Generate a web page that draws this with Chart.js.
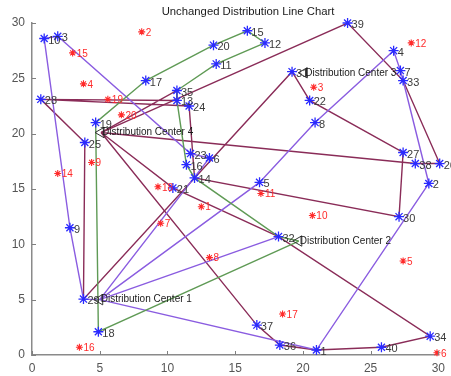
<!DOCTYPE html>
<html>
<head>
<meta charset="utf-8">
<script src="https://cdn.jsdelivr.net/npm/chart.js@4.4.1/dist/chart.umd.min.js"></script>
<style>
  html, body { margin: 0; padding: 0; background: #ffffff; }
  #wrap { width: 451px; height: 376px; }
</style>
</head>
<body>
<div id="wrap"><canvas id="c" width="451" height="376"></canvas></div>
<script>
// Customers (blue markers)
const customerIds = [1, 2, 3, 4, 5, 6, 7, 8, 9, 10,
  11, 12, 13, 14, 15, 16, 17, 18, 19, 20,
  21, 22, 23, 24, 25, 26, 27, 28, 29, 30,
  31, 32, 33, 34, 35, 36, 37, 38, 39, 40];
const customerX = [21.0, 29.3, 1.9, 26.7, 16.8, 13.1, 27.2, 20.9, 2.8, 0.9,
  13.6, 17.2, 10.7, 12.0, 15.9, 11.4, 8.4, 4.9, 4.7, 13.4,
  10.4, 20.5, 11.7, 11.6, 3.9, 30.1, 27.4, 0.65, 3.8, 27.1,
  19.2, 18.2, 27.4, 29.4, 10.7, 18.3, 16.6, 28.3, 23.3, 25.8];
const customerY = [0.45, 15.5, 28.8, 27.5, 15.6, 17.8, 25.7, 21.0, 11.5, 28.6,
  26.3, 28.2, 23.0, 16.0, 29.3, 17.2, 24.8, 2.1, 21.0, 28.0,
  15.1, 23.0, 18.2, 22.5, 19.2, 17.3, 18.3, 23.1, 5.05, 12.5,
  25.6, 10.7, 24.8, 1.7, 23.9, 0.9, 2.7, 17.3, 30.0, 0.7];

// Unassigned demand points (red markers)
const pointIds = [1, 2, 3, 4, 5, 6, 7, 8, 9, 10, 11, 12, 14, 15, 16, 17, 18, 19, 20];
const pointX = [12.5, 8.1, 20.8, 3.8, 27.4, 29.9, 9.5, 13.1, 4.4, 20.7, 16.9, 28.0, 1.9, 3.0, 3.5, 18.5, 9.3, 5.6, 6.6];
const pointY = [13.4, 29.2, 24.2, 24.5, 8.5, 0.2, 11.9, 8.8, 17.4, 12.6, 14.6, 28.2, 16.4, 27.3, 0.7, 3.7, 15.2, 23.1, 21.7];

// Distribution centers
const centerNames = ['Distribution Center 1', 'Distribution Center 2', 'Distribution Center 3', 'Distribution Center 4'];
const centerKeys = ['D1', 'D2', 'D3', 'D4'];
const centerX = [5.0, 19.7, 20.1, 5.1];
const centerY = [5.0, 10.3, 25.5, 20.1];

// Vehicle routes (customer ids, Dn = distribution center n)
const routeGreen   = ['D2', 18, 19, 17, 20, 15, 12, 11, 35, 13, 16, 14, 32, 'D2'];
const routePurpleA = ['D1', 29, 9, 10, 3, 23, 6, 'D1'];
const routePurpleB = ['D1', 5, 8, 4, 7, 33, 2, 1, 'D1'];
const routePurpleC = ['D1', 32];
const routeMaroonA = ['D4', 39, 33, 26, 38, 'D4'];
const routeMaroonB = ['D4', 35, 13, 28, 25, 29, 31, 22, 27, 30, 14, 24, 28];
const routeMaroonC = ['D4', 37, 36, 1, 40, 34, 32, 21, 'D4'];

const GREEN = '#5f9a55';
const PURPLE = '#8a5ce0';
const MAROON = '#8a2c58';

function stop(s) {
  if (typeof s === 'string') {
    const k = centerKeys.indexOf(s);
    return { x: centerX[k], y: centerY[k] };
  }
  const k = customerIds.indexOf(s);
  return { x: customerX[k], y: customerY[k] };
}

function routeDataset(route, color) {
  return {
    type: 'line',
    data: route.map(stop),
    borderColor: color,
    borderWidth: 1.4,
    pointRadius: 0,
    fill: false,
    tension: 0,
    order: 2,
    clip: false
  };
}

const FONT = '"Liberation Sans", Arial, Helvetica, sans-serif';

const overlay = {
  id: 'overlay',
  afterDatasetsDraw(chart) {
    const { ctx, scales: { x, y } } = chart;
    ctx.save();
    ctx.textBaseline = 'middle';
    ctx.textAlign = 'left';

    // customer numbers
    ctx.font = '11px ' + FONT;
    ctx.fillStyle = '#3a3a3a';
    customerIds.forEach((id, i) => {
      ctx.fillText(String(id), x.getPixelForValue(customerX[i]) + 4, y.getPixelForValue(customerY[i]) + 2);
    });

    // demand point numbers
    ctx.font = '10px ' + FONT;
    ctx.fillStyle = '#ff2a2a';
    pointIds.forEach((id, i) => {
      ctx.fillText(String(id), x.getPixelForValue(pointX[i]) + 4, y.getPixelForValue(pointY[i]) + 1);
    });

    // center names
    ctx.font = '10px ' + FONT;
    ctx.fillStyle = '#1a1a1a';
    centerNames.forEach((name, i) => {
      ctx.fillText(name, x.getPixelForValue(centerX[i]) + 1, y.getPixelForValue(centerY[i]));
    });
    ctx.restore();
  },
  afterDraw(chart) {
    const { ctx, chartArea: a, scales: { x, y } } = chart;
    ctx.save();
    // inward tick marks
    ctx.strokeStyle = '#808080';
    ctx.lineWidth = 1;
    ctx.beginPath();
    x.ticks.forEach(t => {
      const px = Math.round(x.getPixelForValue(t.value)) + 0.5;
      ctx.moveTo(px, a.bottom);
      ctx.lineTo(px, a.bottom - 4);
    });
    y.ticks.forEach(t => {
      const py = Math.round(y.getPixelForValue(t.value)) + 0.5;
      ctx.moveTo(a.left, py);
      ctx.lineTo(a.left + 4, py);
    });
    ctx.stroke();

    // title
    ctx.font = '11.3px ' + FONT;
    ctx.fillStyle = '#1a1a1a';
    ctx.textAlign = 'center';
    ctx.textBaseline = 'middle';
    ctx.fillText('Unchanged Distribution Line Chart', 248, 12);
    ctx.restore();
  }
};

const datasets = [
  {
    type: 'scatter',
    data: customerIds.map((id, i) => ({ x: customerX[i], y: customerY[i] })),
    pointStyle: 'star',
    pointRadius: 5,
    borderColor: '#2a2aff',
    borderWidth: 1.3,
    backgroundColor: '#2a2aff',
    order: 0,
    clip: false
  },
  {
    type: 'scatter',
    data: pointIds.map((id, i) => ({ x: pointX[i], y: pointY[i] })),
    pointStyle: 'star',
    pointRadius: 3.5,
    borderColor: '#ff2a2a',
    borderWidth: 1.1,
    backgroundColor: '#ff2a2a',
    order: 0,
    clip: false
  },
  {
    type: 'scatter',
    data: centerX.map((v, i) => ({ x: v, y: centerY[i] })),
    pointStyle: 'triangle',
    rotation: -90,
    pointRadius: 6,
    borderColor: '#333333',
    borderWidth: 1,
    backgroundColor: 'rgba(255,255,255,0)',
    order: 1,
    clip: false
  },
  routeDataset(routeGreen, GREEN),
  routeDataset(routePurpleA, PURPLE),
  routeDataset(routePurpleB, PURPLE),
  routeDataset(routePurpleC, PURPLE),
  routeDataset(routeMaroonA, MAROON),
  routeDataset(routeMaroonB, MAROON),
  routeDataset(routeMaroonC, MAROON)
];

const axisTicks = [0, 5, 10, 15, 20, 25, 30];

new Chart(document.getElementById('c'), {
  type: 'scatter',
  data: { datasets },
  plugins: [overlay],
  options: {
    responsive: false,
    devicePixelRatio: 1,
    animation: false,
    events: [],
    layout: { padding: { left: 0, right: 8, top: 23, bottom: 0 } },
    plugins: { legend: { display: false }, tooltip: { enabled: false }, title: { display: false } },
    scales: {
      x: {
        type: 'linear', min: 0, max: 30,
        afterBuildTicks: s => { s.ticks = axisTicks.map(v => ({ value: v })); },
        afterFit: s => { s.height = 21; },
        grid: { display: true, drawOnChartArea: false, drawTicks: false },
        border: { display: true, color: '#8a8a8a', width: 1.5 },
        ticks: { padding: 6, color: '#555555', font: { size: 12, family: FONT } }
      },
      y: {
        type: 'linear', min: 0, max: 30,
        afterBuildTicks: s => { s.ticks = axisTicks.map(v => ({ value: v })); },
        afterFit: s => { s.width = 32; },
        grid: { display: true, drawOnChartArea: false, drawTicks: false },
        border: { display: true, color: '#8a8a8a', width: 1.5 },
        ticks: { padding: 7, color: '#555555', font: { size: 12, family: FONT } }
      }
    }
  }
});
</script>
</body>
</html>
